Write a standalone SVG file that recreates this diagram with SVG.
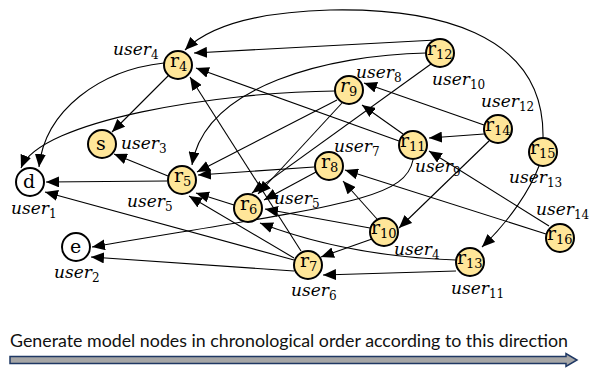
<svg xmlns="http://www.w3.org/2000/svg" width="590" height="371" viewBox="0 0 590 371">
  <style>
    .node circle { fill: #FFE699; stroke: #000; stroke-width: 2; }
    .node.plain circle { fill: #FFFFFF; }
    .nl { font-family: "DejaVu Serif", "Liberation Serif", serif; font-size: 19px; fill: #000; }
    .nl .sub { font-size: 13px; }
    .nl .it { font-style: italic; }
    .ul { font-family: "DejaVu Serif", "Liberation Serif", serif; font-style: italic; font-size: 17px; fill: #000; }
    .ul tspan { font-style: normal; font-size: 12px; }
    #edges path { fill: none; stroke: #000; stroke-width: 1.1; marker-end: url(#tip); }
    .caption { font-family: Lato, "Open Sans", sans-serif; font-size: 18px; fill: #111; }
  </style>
  <defs>
    <marker id="tip" markerUnits="userSpaceOnUse" markerWidth="13" markerHeight="11" refX="13" refY="5.5" orient="auto">
      <path d="M0,0 L13,5.5 L0,11 Z" fill="#000"/>
    </marker>
  </defs>

  <rect width="590" height="371" fill="#FFFFFF"/>

  <!-- connectors -->
  <g id="edges">
    <path d="M164,63 C100,70 45,110 39,167"/>
    <path d="M335,91 C220,92 40,120 21,168"/>
    <path d="M167,181 L46,182"/>
    <path d="M294,260 L45,192"/>
    <path d="M413,160 C405,200 340,205 92,247"/>
    <path d="M294,271 L91,257"/>
    <path d="M169,75 L112,132"/>
    <path d="M168,176 L114,154"/>
    <path d="M543,138 C545,30 430,8 330,10 C260,12 210,25 185,50"/>
    <path d="M436,40 L194,53"/>
    <path d="M426,53 C330,55 205,85 192,165"/>
    <path d="M399,141 L196,68"/>
    <path d="M301,251 L190,77"/>
    <path d="M337,100 L197,172"/>
    <path d="M314,167 L198,175"/>
    <path d="M234,205 L196,193"/>
    <path d="M294,258 L189,196"/>
    <path d="M342,103 L258,194"/>
    <path d="M431,64 L252,193"/>
    <path d="M316,172 L264,200"/>
    <path d="M370,228 L265,209"/>
    <path d="M456,260 C400,258 330,250 260,223"/>
    <path d="M372,239 L321,257"/>
    <path d="M456,271 L323,275"/>
    <path d="M377,219 L343,181"/>
    <path d="M546,234 L345,170"/>
    <path d="M484,125 L364,83"/>
    <path d="M403,134 L362,105"/>
    <path d="M489,141 L399,228"/>
    <path d="M484,134 L429,138"/>
    <path d="M549,226 L429,151"/>
    <path d="M539,166 C530,190 510,220 482,247"/>
  </g>

  <!-- nodes -->
  <g id="d" class="node plain">
    <circle cx="30" cy="182" r="14"/>
    <text class="nl" x="23" y="188">d</text>
    <text class="ul" x="11" y="214">user<tspan dy="4">1</tspan></text>
  </g>
  <g id="e" class="node plain">
    <circle cx="76" cy="247" r="14"/>
    <text class="nl" x="70" y="253">e</text>
    <text class="ul" x="54" y="278">user<tspan dy="4">2</tspan></text>
  </g>
  <g id="s" class="node">
    <circle cx="102" cy="144" r="14"/>
    <text class="nl" x="96" y="150">s</text>
    <text class="ul" x="121" y="149">user<tspan dy="4">3</tspan></text>
  </g>
  <g id="r4" class="node">
    <circle cx="178" cy="65" r="14"/>
    <text class="nl" x="170" y="67">r<tspan class="sub" dy="4">4</tspan></text>
    <text class="ul" x="113" y="55">user<tspan dy="4">4</tspan></text>
  </g>
  <g id="r5" class="node">
    <circle cx="182" cy="180" r="14"/>
    <text class="nl" x="174" y="182">r<tspan class="sub" dy="4">5</tspan></text>
    <text class="ul" x="127" y="207">user<tspan dy="4">5</tspan></text>
  </g>
  <g id="r6" class="node">
    <circle cx="248" cy="208" r="14"/>
    <text class="nl" x="240" y="210">r<tspan class="sub" dy="4">6</tspan></text>
    <text class="ul" x="274" y="204">user<tspan dy="4">5</tspan></text>
  </g>
  <g id="r7" class="node">
    <circle cx="308" cy="265" r="14"/>
    <text class="nl" x="300" y="267">r<tspan class="sub" dy="4">7</tspan></text>
    <text class="ul" x="291" y="296">user<tspan dy="4">6</tspan></text>
  </g>
  <g id="r8" class="node">
    <circle cx="329" cy="166" r="14"/>
    <text class="nl" x="321" y="168">r<tspan class="sub" dy="4">8</tspan></text>
    <text class="ul" x="334" y="152">user<tspan dy="4">7</tspan></text>
  </g>
  <g id="r9" class="node">
    <circle cx="349" cy="90" r="14"/>
    <text class="nl" x="340" y="92"><tspan class="it">r</tspan><tspan class="sub" dy="4">9</tspan></text>
    <text class="ul" x="356" y="78">user<tspan dy="4">8</tspan></text>
  </g>
  <g id="r10" class="node">
    <circle cx="384" cy="232" r="14"/>
    <text class="nl" x="371" y="234">r<tspan class="sub" dy="4">10</tspan></text>
    <text class="ul" x="394" y="255">user<tspan dy="4">4</tspan></text>
  </g>
  <g id="r11" class="node">
    <circle cx="413" cy="145" r="14"/>
    <text class="nl" x="400" y="147">r<tspan class="sub" dy="4">11</tspan></text>
    <text class="ul" x="415" y="172">user<tspan dy="4">9</tspan></text>
  </g>
  <g id="r12" class="node">
    <circle cx="440" cy="53" r="14"/>
    <text class="nl" x="427" y="55">r<tspan class="sub" dy="4">12</tspan></text>
    <text class="ul" x="432" y="85">user<tspan dy="4">10</tspan></text>
  </g>
  <g id="r13" class="node">
    <circle cx="470" cy="262" r="14"/>
    <text class="nl" x="457" y="264">r<tspan class="sub" dy="4">13</tspan></text>
    <text class="ul" x="451" y="294">user<tspan dy="4">11</tspan></text>
  </g>
  <g id="r14" class="node">
    <circle cx="498" cy="129" r="14"/>
    <text class="nl" x="485" y="131">r<tspan class="sub" dy="4">14</tspan></text>
    <text class="ul" x="481" y="107">user<tspan dy="4">12</tspan></text>
  </g>
  <g id="r15" class="node">
    <circle cx="543" cy="152" r="14"/>
    <text class="nl" x="530" y="154">r<tspan class="sub" dy="4">15</tspan></text>
    <text class="ul" x="509" y="183">user<tspan dy="4">13</tspan></text>
  </g>
  <g id="r16" class="node">
    <circle cx="560" cy="238" r="14"/>
    <text class="nl" x="547" y="240">r<tspan class="sub" dy="4">16</tspan></text>
    <text class="ul" x="536" y="215">user<tspan dy="4">14</tspan></text>
  </g>

  <!-- time direction -->
  <g id="direction">
    <text class="caption" x="10" y="347" textLength="558" lengthAdjust="spacingAndGlyphs">Generate model nodes in chronological order according to this direction</text>
    <path d="M10,356.5 H566 V353.5 L577,360 L566,366.5 V363.5 H10 Z" fill="#A6A6A6" stroke="#1F3864" stroke-width="1.5" stroke-linejoin="miter"/>
  </g>
</svg>
